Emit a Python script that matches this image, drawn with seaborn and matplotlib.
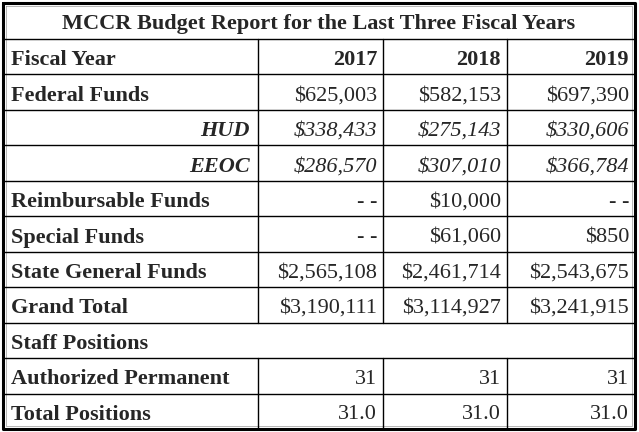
import matplotlib
matplotlib.use("Agg")
import matplotlib.pyplot as plt
import seaborn as sns

sns.set_style("white")
plt.rcParams["font.family"] = ["Liberation Serif", "DejaVu Serif"]

TITLE = "MCCR Budget Report for the Last Three Fiscal Years"
YEARS = ["2017", "2018", "2019"]
ROW_LABELS = ["Federal Funds", "HUD", "EEOC", "Reimbursable Funds", "Special Funds",
              "State General Funds", "Grand Total", "Staff Positions",
              "Authorized Permanent", "Total Positions"]
ITALIC_ROWS = ["HUD", "EEOC"]
Y2017 = ["$625,003", "$338,433", "$286,570", "- -", "- -", "$2,565,108", "$3,190,111", None, "31", "31.0"]
Y2018 = ["$582,153", "$275,143", "$307,010", "$10,000", "$61,060", "$2,461,714", "$3,114,927", None, "31", "31.0"]
Y2019 = ["$697,390", "$330,606", "$366,784", "- -", "$850", "$2,543,675", "$3,241,915", None, "31", "31.0"]

fig = plt.figure(figsize=(6.39, 4.32), dpi=100)
ax = fig.add_axes([0, 0, 1, 1])
ax.set_xlim(0, 639)
ax.set_ylim(432, 0)
ax.axis("off")

L, R, T, B = 3, 635, 3, 429
cols = [L, 258, 383, 507, R]
title_h = 36
row_h = (B - T - title_h) / 11
rows = [T, T + title_h] + [T + title_h + row_h * (i + 1) for i in range(11)]

# outer border
ax.plot([L, R, R, L, L], [T, T, B, B, T], color="black", lw=2.2)
ax.plot([L + 3, R - 3, R - 3, L + 3, L + 3], [T + 3, T + 3, B - 3, B - 3, T + 3],
        color="#999999", lw=0.5)
for y in rows[1:-1]:
    ax.plot([L, R], [y, y], color="black", lw=1)
staff_idx = ROW_LABELS.index("Staff Positions")
for x in cols[1:-1]:
    for i in range(11):
        if i - 1 == staff_idx:
            continue
        ax.plot([x, x], [rows[i + 1], rows[i + 2]], color="black", lw=1)

fs = 16
ax.text((L + R) / 2, T + title_h / 2 + 1, TITLE, ha="center", va="center_baseline",
        fontsize=fs, fontweight="bold")

def cy(i):
    return (rows[i + 1] + rows[i + 2]) / 2 + 1

ax.text(cols[0] + 8, cy(0), "Fiscal Year", ha="left", va="center_baseline", fontsize=fs, fontweight="bold")
for j, yr in enumerate(YEARS):
    ax.text(cols[j + 2] - 6, cy(0), yr, ha="right", va="center_baseline", fontsize=fs, fontweight="bold")

for i, lab in enumerate(ROW_LABELS):
    r = i + 1
    if lab in ITALIC_ROWS:
        ax.text(cols[1] - 8, cy(r), lab, ha="right", va="center_baseline", fontsize=fs,
                fontweight="bold", style="italic")
    else:
        ax.text(cols[0] + 8, cy(r), lab, ha="left", va="center_baseline", fontsize=fs, fontweight="bold")
    for j, vals in enumerate([Y2017, Y2018, Y2019]):
        v = vals[i]
        if v is None:
            continue
        ax.text(cols[j + 2] - 6, cy(r), v, ha="right", va="center_baseline", fontsize=fs,
                style="italic" if lab in ITALIC_ROWS else "normal")

fig.savefig("out.png", dpi=100)
